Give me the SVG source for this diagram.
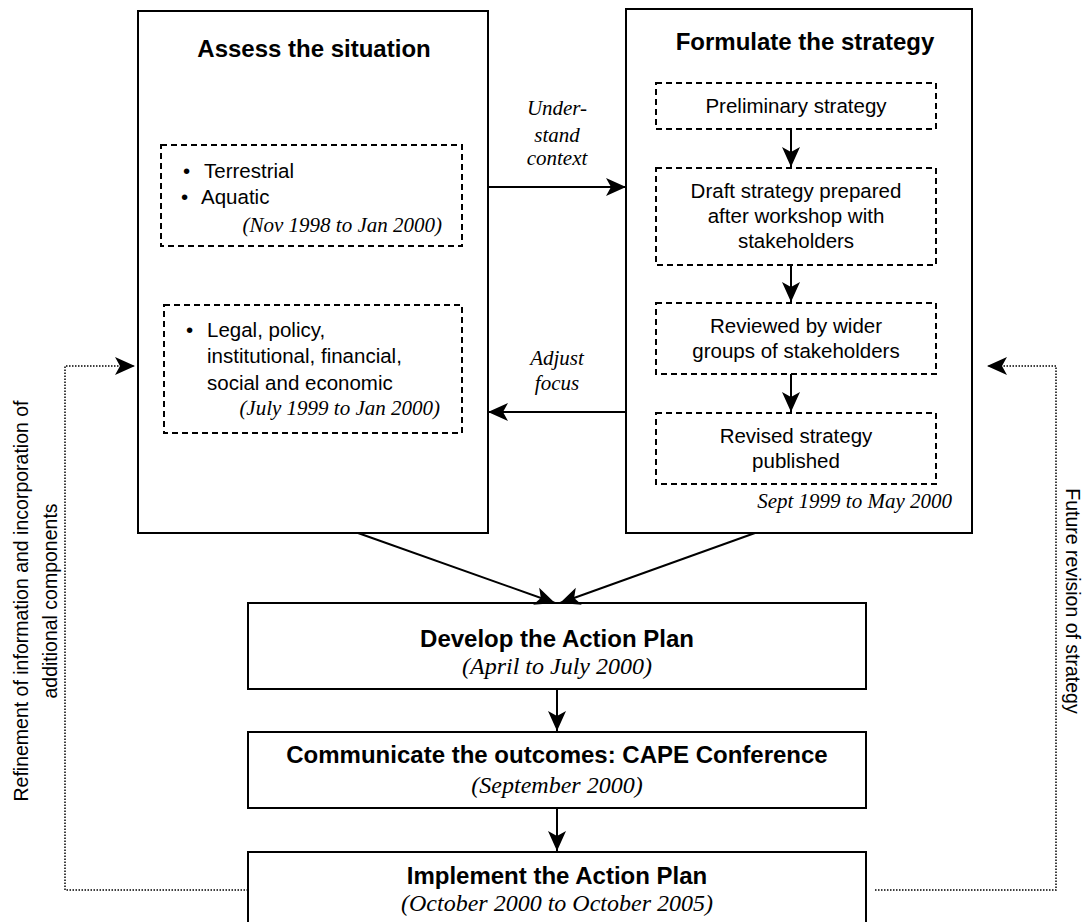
<svg xmlns="http://www.w3.org/2000/svg" width="1085" height="922" viewBox="0 0 1085 922">
<defs>
<marker id="ah" markerUnits="userSpaceOnUse" viewBox="0 0 20 20" refX="20" refY="10" markerWidth="20" markerHeight="20" orient="auto"><path d="M0,1 L20,10 L0,19 L5,10 Z" fill="#000"/></marker>
</defs>
<style>
.box{fill:#fff;stroke:#000;stroke-width:2}
.dash{fill:none;stroke:#000;stroke-width:2;stroke-dasharray:6 4}
.con{fill:none;stroke:#000;stroke-width:2;marker-end:url(#ah)}
.dot{fill:none;stroke:#000;stroke-width:1.5;stroke-dasharray:1.5 1.5;marker-end:url(#ah)}
.t{font-family:"Liberation Sans",Arial,sans-serif;font-size:20.5px;fill:#000}
.b{font-family:"Liberation Sans",Arial,sans-serif;font-size:24px;font-weight:bold;fill:#000}
.i{font-family:"Liberation Serif","Times New Roman",serif;font-style:italic;font-size:21px;fill:#000}
.i2{font-family:"Liberation Serif","Times New Roman",serif;font-style:italic;font-size:24px;fill:#000}
.s{font-family:"Liberation Sans",Arial,sans-serif;font-size:19.5px;fill:#000}
.c{text-anchor:middle}
.e{text-anchor:end}
</style>
<rect width="1085" height="922" fill="#fff"/>
<g id="assess">
<rect class="box" x="138" y="11" width="350" height="522"/>
<text class="b c" x="314" y="57">Assess the situation</text>
<g id="biophysical">
<rect class="dash" x="161" y="145" width="301" height="101"/>
<text class="t" x="183" y="178">•</text><text class="t" x="204" y="178">Terrestrial</text>
<text class="t" x="181" y="204">•</text><text class="t" x="201" y="204">Aquatic</text>
<text class="i e" x="442" y="232">(Nov 1998 to Jan 2000)</text>
</g>
<g id="legal">
<rect class="dash" x="164" y="305" width="298" height="128"/>
<text class="t" x="186" y="337">•</text><text class="t" x="207" y="337">Legal, policy,</text>
<text class="t" x="207" y="363">institutional, financial,</text>
<text class="t" x="207" y="390">social and economic</text>
<text class="i e" x="440" y="415">(July 1999 to Jan 2000)</text>
</g>
</g>
<g id="formulate">
<rect class="box" x="626" y="9" width="346" height="524"/>
<text class="b c" x="805" y="50">Formulate the strategy</text>
<g id="prelim"><rect class="dash" x="656" y="83" width="280" height="46"/>
<text class="t c" x="796" y="113">Preliminary strategy</text></g>
<g id="draft"><rect class="dash" x="656" y="168" width="280" height="97"/>
<text class="t c" x="796" y="198">Draft strategy prepared</text>
<text class="t c" x="796" y="223">after workshop with</text>
<text class="t c" x="796" y="248">stakeholders</text></g>
<g id="reviewed"><rect class="dash" x="656" y="303" width="280" height="71"/>
<text class="t c" x="796" y="333">Reviewed by wider</text>
<text class="t c" x="796" y="358">groups of stakeholders</text></g>
<g id="revised"><rect class="dash" x="656" y="413" width="280" height="71"/>
<text class="t c" x="796" y="443">Revised strategy</text>
<text class="t c" x="796" y="468">published</text></g>
<text class="i e" x="952" y="508">Sept 1999 to May 2000</text>
</g>
<g id="develop">
<rect class="box" x="248" y="603" width="618" height="86"/>
<text class="b c" x="557" y="647">Develop the Action Plan</text>
<text class="i2 c" x="557" y="674">(April to July 2000)</text>
</g>
<g id="communicate">
<rect class="box" x="248" y="732" width="618" height="76"/>
<text class="b c" x="557" y="763">Communicate the outcomes: CAPE Conference</text>
<text class="i2 c" x="557" y="793">(September 2000)</text>
</g>
<g id="implement">
<rect class="box" x="248" y="852" width="618" height="90"/>
<text class="b c" x="557" y="884">Implement the Action Plan</text>
<text class="i2 c" x="557" y="911">(October 2000 to October 2005)</text>
</g>
<g id="connectors">
<path class="con" d="M488,187 H626"/>
<path class="con" d="M626,412 H488"/>
<path class="con" d="M791,130 V167"/>
<path class="con" d="M791,265 V302"/>
<path class="con" d="M791,374 V412"/>
<path class="con" d="M358,533 L555,603"/>
<path class="con" d="M755,533 L560,603"/>
<path class="con" d="M557,689 V731"/>
<path class="con" d="M557,808 V851"/>
<path class="dot" d="M248,890 H65 V366 H135"/>
<path class="dot" d="M875,890 H1056 V366 H987"/>
<text class="i c" x="557" y="115" font-size="20">Under-</text>
<text class="i c" x="557" y="142" font-size="20">stand</text>
<text class="i c" x="557" y="165" font-size="20">context</text>
<text class="i c" x="557" y="365">Adjust</text>
<text class="i c" x="557" y="390">focus</text>
<g transform="translate(0,601) rotate(-90)">
<text class="s c" x="0" y="28">Refinement of information and incorporation of</text>
<text class="s c" x="0" y="57">additional components</text>
</g>
<g transform="translate(1066,601) rotate(90)">
<text class="s c" x="0" y="0" font-size="17.5">Future revision of strategy</text>
</g>
</g>
</svg>
